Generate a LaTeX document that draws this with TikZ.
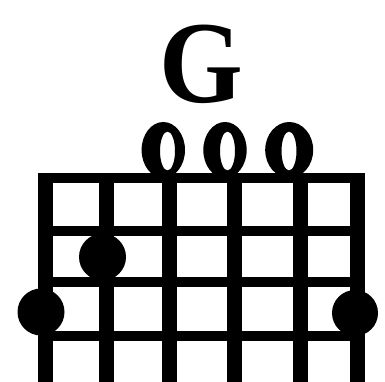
\documentclass[tikz,border=0pt]{standalone}
\usepackage{fontspec}
\setmainfont{Liberation Serif}
\begin{document}
\begin{tikzpicture}[x=1pt,y=-1pt,
  stringline/.style={line width=15pt},
  fretline/.style={line width=10pt},
  fingerdot/.style={circle,fill=black,inner sep=0pt,minimum size=47pt},
  title/.style={inner sep=0pt,font=\bfseries\fontsize{117}{117}\selectfont,xscale=0.92}]
\useasboundingbox (0,0) rectangle (385,382);
% chord name
\node[title] (name) at (201.7,64.5) {G};
% strings
\foreach \i/\x in {1/45.3,2/106.7,3/169,4/234,5/300,6/357}{
  \coordinate (s\i top) at (\x,173);
  \coordinate (s\i bot) at (\x,382);
  \draw[stringline] (s\i top) -- (s\i bot);
}
% nut
\fill (37.5,173) rectangle (363.8,183);
% frets
\foreach \j/\y in {1/231,2/282,3/336}{
  \coordinate (f\j l) at (37.5,\y);
  \coordinate (f\j r) at (363.8,\y);
  \draw[fretline] (f\j l) -- (f\j r);
}
% open string markers
\foreach \k/\ox/\ix/\orx in {1/163.3/167.5/21.7,2/225/227.5/21.7,3/289.2/289/24}{
  \fill[even odd rule] (\ox,150) ellipse [x radius=\orx, y radius=28]
                        (\ix,151) ellipse [x radius=7.5, y radius=19.5];
}
% finger dots
\node[fingerdot] (d2) at (102.5,257) {};
\node[fingerdot] (d1) at (41,312) {};
\node[fingerdot,minimum size=46pt] (d6) at (355,313) {};
\end{tikzpicture}
\end{document}
